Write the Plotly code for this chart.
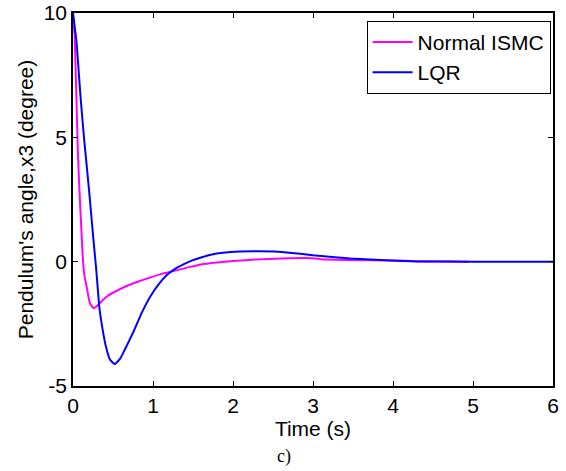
import plotly.graph_objects as go

# Normal ISMC (magenta)
t_ismc = [0, 0.02, 0.04, 0.06, 0.08, 0.10, 0.12, 0.14, 0.17, 0.21, 0.25, 0.28, 0.33,
          0.43, 0.5, 0.67, 0.8, 0.97, 1.1, 1.28, 1.45, 1.6, 1.8, 2.0, 2.3, 2.6, 3.0,
          3.1, 3.5, 4.0, 4.3, 4.95]
x3_ismc = [10, 9.1, 6.9, 4.5, 2.9, 1.6, 0.3, -0.5, -1.0, -1.65, -1.86, -1.84, -1.68,
           -1.38, -1.25, -0.98, -0.82, -0.63, -0.5, -0.36, -0.22, -0.11, -0.03, 0.03,
           0.09, 0.13, 0.14, 0.1, 0.07, 0.05, 0.02, 0.0]

# LQR (blue)
t_lqr = [0, 0.045, 0.09, 0.137, 0.2, 0.255, 0.29, 0.33, 0.37, 0.41, 0.46, 0.52, 0.59,
         0.65, 0.76, 0.86, 0.97, 1.07, 1.17, 1.28, 1.38, 1.49, 1.59, 1.75, 1.97, 2.25,
         2.51, 2.84, 3.0, 3.47, 3.97, 4.3, 5.0, 6.0]
x3_lqr = [10, 8.8, 6.8, 5.0, 2.9, 0.9, -0.3, -1.86, -2.72, -3.39, -3.92, -4.12, -3.9,
          -3.52, -2.79, -2.05, -1.38, -0.91, -0.55, -0.28, -0.11, 0.05, 0.16, 0.3, 0.39,
          0.42, 0.41, 0.32, 0.26, 0.13, 0.05, 0.01, 0.0, 0.0]

x_ticks = [0, 1, 2, 3, 4, 5, 6]
y_ticks = [-5, 0, 5, 10]

FONT = "Liberation Sans, Arial, sans-serif"
FS = 21

fig = go.Figure()
fig.add_trace(go.Scatter(x=t_ismc, y=x3_ismc, mode="lines", name="Normal ISMC",
                         line=dict(color="#FF00FF", width=2, shape="spline", smoothing=0.4)))
fig.add_trace(go.Scatter(x=t_lqr, y=x3_lqr, mode="lines", name="LQR",
                         line=dict(color="#0000FF", width=2, shape="spline", smoothing=0.4)))

axis_common = dict(showline=True, linecolor="black", linewidth=1.5, mirror="ticks",
                   ticks="inside", ticklen=5, tickcolor="black", showgrid=False,
                   zeroline=False, automargin=False,
                   tickfont=dict(family=FONT, size=FS, color="black"))

fig.update_xaxes(range=[0, 6], tickvals=x_ticks, ticktext=[str(v) for v in x_ticks],
                 title=dict(text="Time (s)", font=dict(family=FONT, size=FS, color="black"),
                            standoff=2),
                 **axis_common)
fig.update_yaxes(range=[-5, 10], tickvals=y_ticks, ticktext=[str(v) for v in y_ticks],
                 title=dict(text="Pendulum's angle,x3 (degree)",
                            font=dict(family=FONT, size=FS, color="black"), standoff=4),
                 **axis_common)

fig.update_layout(
    width=566, height=471,
    margin=dict(l=73, r=13, t=13, b=85),
    paper_bgcolor="white", plot_bgcolor="white",
    showlegend=True,
    legend=dict(x=0.995, y=0.979, xanchor="right", yanchor="top",
                bgcolor="white", bordercolor="black", borderwidth=1,
                font=dict(family=FONT, size=FS, color="black"),
                tracegroupgap=0, itemwidth=40),
    annotations=[dict(text="c)", xref="paper", yref="paper", x=0.44, y=-0.19,
                      xanchor="center", yanchor="middle", showarrow=False,
                      font=dict(family="Liberation Serif, Times New Roman, serif",
                                size=18, color="black"))],
)

fig.write_html("out.html", config={"displayModeBar": False},
               post_script="document.body.style.margin='0';document.body.style.padding='0';")
